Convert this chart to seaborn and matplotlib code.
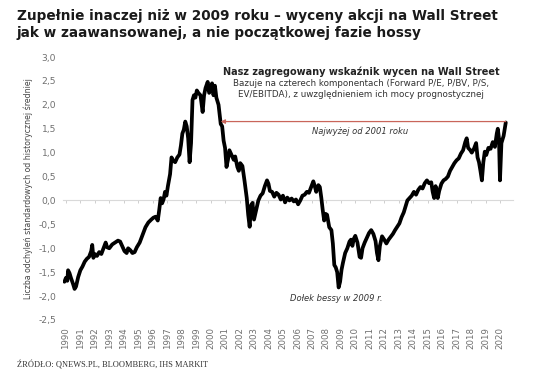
import matplotlib
matplotlib.use("Agg")
import matplotlib.pyplot as plt
import seaborn as sns
import pandas as pd

# data (fractional years, std deviations)
years = [1989.9, 1990.0, 1990.1, 1990.15, 1990.25, 1990.35, 1990.5, 1990.6, 1990.7, 1990.85,
         1991.0, 1991.15, 1991.3, 1991.45, 1991.6, 1991.75, 1991.82, 1991.9, 1992.0, 1992.15,
         1992.3, 1992.45, 1992.6, 1992.75, 1992.85, 1993.0, 1993.2, 1993.4, 1993.6, 1993.75,
         1993.9, 1994.05, 1994.2, 1994.3, 1994.45, 1994.6, 1994.75, 1994.9, 1995.1, 1995.3,
         1995.5, 1995.7, 1995.9, 1996.05, 1996.2, 1996.35, 1996.45, 1996.55, 1996.65, 1996.75,
         1996.85, 1996.95, 1997.05, 1997.2, 1997.3, 1997.4, 1997.55, 1997.7, 1997.85, 1997.95,
         1998.05, 1998.15, 1998.25, 1998.35, 1998.45, 1998.55, 1998.65, 1998.75, 1998.85, 1998.95,
         1999.05, 1999.15, 1999.3, 1999.45, 1999.55, 1999.65, 1999.8, 1999.9, 2000.0, 2000.1,
         2000.2, 2000.3, 2000.4, 2000.55, 2000.7, 2000.8, 2000.9, 2001.0, 2001.1, 2001.2,
         2001.3, 2001.45, 2001.6, 2001.7, 2001.85, 2001.95, 2002.05, 2002.2, 2002.35, 2002.5,
         2002.6, 2002.7, 2002.8, 2002.9, 2003.0, 2003.15, 2003.3, 2003.45, 2003.6, 2003.75,
         2003.9, 2004.0, 2004.1, 2004.25, 2004.4, 2004.55, 2004.7, 2004.85, 2005.0, 2005.15,
         2005.3, 2005.45, 2005.6, 2005.75, 2005.9, 2006.05, 2006.2, 2006.35, 2006.5, 2006.65,
         2006.8, 2006.95, 2007.1, 2007.2, 2007.3, 2007.45, 2007.55, 2007.65, 2007.75, 2007.85,
         2007.95, 2008.05, 2008.2, 2008.35, 2008.45, 2008.55, 2008.65, 2008.75, 2008.85, 2008.95,
         2009.05, 2009.15, 2009.3, 2009.45, 2009.6, 2009.7, 2009.8, 2009.9, 2010.0, 2010.15,
         2010.3, 2010.4, 2010.5, 2010.65, 2010.8, 2010.95, 2011.1, 2011.25, 2011.4, 2011.5,
         2011.6, 2011.7, 2011.85, 2012.0, 2012.15, 2012.3, 2012.45, 2012.6, 2012.75, 2012.9,
         2013.05, 2013.2, 2013.35, 2013.5, 2013.6, 2013.75, 2013.9, 2014.05, 2014.2, 2014.35,
         2014.5, 2014.65, 2014.8, 2014.95, 2015.1, 2015.25, 2015.35, 2015.45, 2015.55, 2015.7,
         2015.8, 2015.95, 2016.1, 2016.25, 2016.4, 2016.55, 2016.7, 2016.85, 2017.0, 2017.15,
         2017.3, 2017.45, 2017.6, 2017.7, 2017.8, 2017.95, 2018.05, 2018.2, 2018.35, 2018.45,
         2018.55, 2018.65, 2018.75, 2018.85, 2018.95, 2019.05, 2019.2, 2019.35, 2019.5, 2019.65,
         2019.78, 2019.85, 2019.93, 2020.0, 2020.1, 2020.25, 2020.4]
values = [-1.70, -1.62, -1.68, -1.46, -1.52, -1.62, -1.75, -1.85, -1.80, -1.60,
          -1.46, -1.38, -1.28, -1.22, -1.18, -1.06, -0.93, -1.20, -1.12, -1.16,
          -1.08, -1.12, -1.00, -0.88, -0.98, -1.00, -0.92, -0.88, -0.84, -0.86,
          -0.96, -1.06, -1.10, -1.00, -1.04, -1.10, -1.08, -0.98, -0.88, -0.72,
          -0.56, -0.46, -0.40, -0.36, -0.34, -0.42, -0.20, 0.05, -0.06, 0.02,
          0.18, 0.10, 0.30, 0.55, 0.90, 0.84, 0.80, 0.90, 0.96, 1.15,
          1.40, 1.48, 1.65, 1.55, 1.30, 0.80, 1.20, 2.10, 2.20, 2.15,
          2.30, 2.25, 2.20, 1.85, 2.20, 2.35, 2.48, 2.25, 2.30, 2.45,
          2.20, 2.40, 2.15, 2.00, 1.60, 1.55, 1.25, 1.10, 0.70, 0.85,
          1.05, 0.95, 0.85, 0.92, 0.70, 0.62, 0.78, 0.72, 0.40, 0.05,
          -0.30, -0.55, -0.10, -0.05, -0.40, -0.20, 0.00, 0.10, 0.15, 0.30,
          0.42, 0.35, 0.20, 0.18, 0.08, 0.16, 0.12, 0.02, 0.10, -0.04,
          0.06, 0.00, 0.04, -0.02, 0.02, -0.08, 0.00, 0.10, 0.12, 0.18,
          0.16, 0.28, 0.40, 0.30, 0.18, 0.32, 0.28, 0.06, -0.20, -0.42,
          -0.28, -0.30, -0.56, -0.62, -0.90, -1.35, -1.40, -1.50, -1.82, -1.70,
          -1.45, -1.30, -1.10, -1.00, -0.86, -0.82, -0.95, -0.80, -0.74, -0.88,
          -1.18, -1.20, -1.00, -0.88, -0.78, -0.68, -0.62, -0.70, -0.85, -1.10,
          -1.25, -0.95, -0.75, -0.82, -0.90, -0.82, -0.76, -0.70, -0.62, -0.55,
          -0.48, -0.35, -0.25, -0.10, 0.00, 0.05, 0.10, 0.18, 0.12, 0.22,
          0.28, 0.25, 0.36, 0.42, 0.36, 0.38, 0.18, 0.05, 0.30, 0.05,
          0.20, 0.35, 0.42, 0.45, 0.50, 0.62, 0.70, 0.78, 0.84, 0.88,
          0.98, 1.05, 1.22, 1.30, 1.10, 1.05, 1.00, 1.08, 1.20, 0.90,
          0.80, 0.62, 0.42, 0.80, 1.02, 0.95, 1.10, 1.08, 1.22, 1.12,
          1.40, 1.50, 1.30, 0.42, 1.20, 1.35, 1.63]

year_ticks = list(range(1990, 2021))
y_ticks = [3.0, 2.5, 2.0, 1.5, 1.0, 0.5, 0.0, -0.5, -1.0, -1.5, -2.0, -2.5]
y_tick_labels = ["3,0", "2,5", "2,0", "1,5", "1,0", "0,5", "0,0", "-0,5", "-1,0", "-1,5", "-2,0", "-2,5"]
high_level = 1.65          # "Najwyżej od 2001 roku"
high_from, high_to = 2000.7, 2020.4

df = pd.DataFrame({"year": years, "value": values})

sns.set_style("white")
plt.rcParams['font.family'] = ['DejaVu Sans']

fig = plt.figure(figsize=(5.36, 3.84), dpi=100)
ax = fig.add_axes([63 / 536, 1 - 320 / 384, 450 / 536, 263 / 384])

sns.lineplot(data=df, x="year", y="value", color="black", linewidth=2.7, ax=ax)

ax.set_xlim(1989.8, 2020.9)
ax.set_ylim(-2.5, 3.0)
for s in ax.spines.values():
    s.set_visible(False)

gray = "#6f6f6f"
ax.set_xticks(year_ticks)
ax.set_xticklabels([str(y) for y in year_ticks], rotation=90, fontsize=6.2, color=gray)
ax.set_yticks(y_ticks)
ax.set_yticklabels(y_tick_labels, fontsize=6.6, color=gray)
ax.tick_params(axis="both", length=0, pad=5)
ax.set_xlabel("")
ax.set_ylabel("Liczba odchyleń standardowych od historycznej średniej",
              fontsize=5.6, color="#444444", labelpad=4)

# zero line with small year ticks
zero_frac = (0 - ax.get_ylim()[0]) / (ax.get_ylim()[1] - ax.get_ylim()[0])
sec = ax.secondary_xaxis(zero_frac)
sec.set_xticks(year_ticks)
sec.set_xticklabels([])
sec.tick_params(axis="x", length=2.5, width=0.6, color="#c8c8c8", direction="out")
sec.spines["bottom"].set_color("#d9d9d9")
sec.spines["bottom"].set_linewidth(0.8)

# red arrow "highest since 2001"
ax.annotate("", xy=(high_from, high_level), xytext=(high_to, high_level),
            arrowprops=dict(arrowstyle="-|>", color="#c9655a", lw=0.9,
                            mutation_scale=6, shrinkA=0, shrinkB=0))
ax.text(2010.3, 1.45, "Najwyżej od 2001 roku", fontsize=6, style="italic",
        color="#333333", ha="center", va="center")
ax.text(2010.4, 2.70, "Nasz zagregowany wskaźnik wycen na Wall Street", fontsize=7.0,
        fontweight="bold", color="#222222", ha="center", va="center")
ax.text(2010.4, 2.33, "Bazuje na czterech komponentach (Forward P/E, P/BV, P/S,\n"
        "EV/EBITDA), z uwzględnieniem ich mocy prognostycznej",
        fontsize=6.3, color="#333333", ha="center", va="center", linespacing=1.25)
ax.text(2008.7, -2.05, "Dołek bessy w 2009 r.", fontsize=6, style="italic",
        color="#333333", ha="center", va="center")

fig.text(17 / 536, 1 - 16 / 384, "Zupełnie inaczej niż w 2009 roku – wyceny akcji na Wall Street",
         fontsize=9.8, fontweight="bold", color="#1a1a1a", ha="left", va="center")
fig.text(17 / 536, 1 - 33 / 384, "jak w zaawansowanej, a nie początkowej fazie hossy",
         fontsize=9.8, fontweight="bold", color="#1a1a1a", ha="left", va="center")
fig.text(17 / 536, 1 - 365 / 384, "ŹRÓDŁO: QNEWS.PL, BLOOMBERG, IHS MARKIT",
         fontsize=6.0, family="Liberation Serif", color="#333333", ha="left", va="center")

fig.savefig("out.png", dpi=100, facecolor="white")
